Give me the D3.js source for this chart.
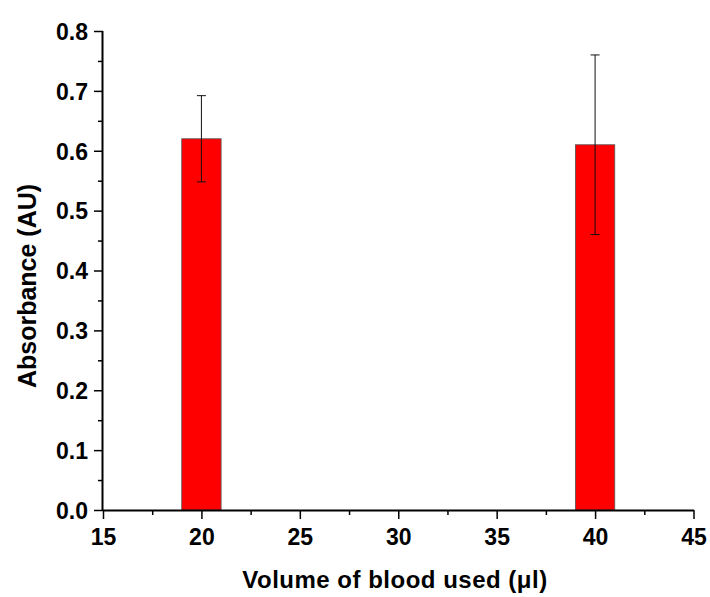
<!DOCTYPE html>
<html>
<head>
<meta charset="utf-8">
<script src="https://cdn.jsdelivr.net/npm/d3@7"></script>
<style>
  body { margin: 0; background: #fff; }
  text { font-family: "Liberation Sans", Arial, sans-serif; font-weight: bold; fill: #000; }
</style>
</head>
<body>
<div id="chart"></div>
<script>
// data
var volumes = [20, 40];
var absorbance = [0.62, 0.61];
var errors = [0.072, 0.15];
var xTicks = [15, 20, 25, 30, 35, 40, 45];
var yTicks = [0.0, 0.1, 0.2, 0.3, 0.4, 0.5, 0.6, 0.7, 0.8];

var svgWidth = 710;
var svgHeight = 597;

var margin = { top: 31, right: 16, bottom: 87, left: 103 };
var width = svgWidth - margin.left - margin.right;
var height = svgHeight - margin.top - margin.bottom;

var svg = d3.select("#chart")
  .append("svg")
  .attr("width", svgWidth)
  .attr("height", svgHeight);

var g = svg.append("g")
  .attr("transform", `translate(${margin.left}, ${margin.top})`);

var x = d3.scaleLinear().domain([15, 45]).range([0, width - 0.5]);
var y = d3.scaleLinear().domain([0, 0.8]).range([height, 0]);

var barWidth = 2; // in x units

// bars
g.selectAll("rect.bar")
  .data(volumes)
  .enter()
  .append("rect")
  .attr("class", "bar")
  .attr("x", (d) => x(d - barWidth / 2))
  .attr("y", (d, i) => y(absorbance[i]))
  .attr("width", (d) => x(d + barWidth / 2) - x(d - barWidth / 2))
  .attr("height", (d, i) => y(0) - y(absorbance[i]))
  .attr("fill", "#ff0000")
  .attr("stroke", "#555")
  .attr("stroke-width", 0.8);

// error bars
var err = g.selectAll("g.err")
  .data(volumes)
  .enter()
  .append("g")
  .attr("class", "err")
  .attr("stroke", "#111")
  .attr("stroke-width", 1);

err.append("line")
  .attr("x1", (d) => x(d))
  .attr("x2", (d) => x(d))
  .attr("y1", (d, i) => y(absorbance[i] + errors[i]))
  .attr("y2", (d, i) => y(absorbance[i] - errors[i]));

[1, -1].forEach(function(s) {
  err.append("line")
    .attr("x1", (d) => x(d) - 4.5)
    .attr("x2", (d) => x(d) + 4.5)
    .attr("y1", (d, i) => y(absorbance[i] + s * errors[i]))
    .attr("y2", (d, i) => y(absorbance[i] + s * errors[i]));
});

// minor ticks
var xMinor = d3.range(17.5, 45, 5);
var yMinor = d3.range(0.05, 0.8, 0.1);

var xAxis = g.append("g")
  .attr("transform", `translate(0, ${height})`)
  .call(d3.axisBottom(x).tickValues(xTicks).tickSize(9).tickPadding(10).tickFormat(d3.format("d")));

var yAxis = g.append("g")
  .call(d3.axisLeft(y).tickValues(yTicks).tickSize(9).tickPadding(6).tickFormat(d3.format(".1f")));

g.append("g")
  .attr("transform", `translate(0, ${height})`)
  .call(d3.axisBottom(x).tickValues(xMinor).tickSize(5).tickFormat(""))
  .select(".domain").remove();

g.append("g")
  .call(d3.axisLeft(y).tickValues(yMinor).tickSize(5).tickFormat(""))
  .select(".domain").remove();

g.selectAll(".domain").attr("stroke", "#000").attr("stroke-width", 2).attr("d", null);
xAxis.select(".domain").attr("d", `M0,0.5H${width}`);
yAxis.select(".domain").attr("d", `M-0.5,${height}V0`);
g.selectAll(".tick line").attr("stroke", "#000").attr("stroke-width", 1.5);

xAxis.selectAll("text").attr("font-size", null).style("font-size", "23px").style("font-weight", "bold");
yAxis.selectAll("text").attr("font-size", null).style("font-size", "23px").style("font-weight", "bold").attr("dy", "0.36em");
xAxis.attr("font-size", 23);
yAxis.attr("font-size", 23);

// axis titles
svg.append("text")
  .attr("x", 395)
  .attr("y", 588)
  .attr("text-anchor", "middle")
  .style("font-size", "24px")
  .style("letter-spacing", "0.5px")
  .text("Volume of blood used (μl)");

svg.append("text")
  .attr("transform", `translate(36, 286) rotate(-90)`)
  .attr("text-anchor", "middle")
  .style("font-size", "25px")
  .text("Absorbance (AU)");
</script>
</body>
</html>
